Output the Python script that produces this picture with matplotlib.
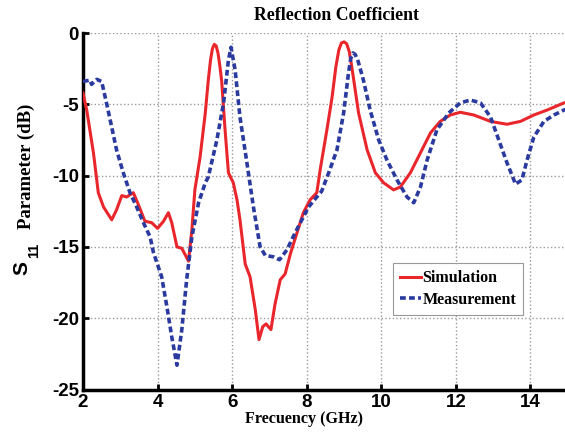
import matplotlib
matplotlib.use("Agg")
import matplotlib.pyplot as plt

# Simulation (red, solid)
sim_f = [2.0, 2.1, 2.28, 2.41, 2.55, 2.77, 2.9, 3.04, 3.17, 3.35, 3.48, 3.66, 3.84, 4.0,
         4.16, 4.29, 4.38, 4.52, 4.65, 4.83, 4.92, 5.0, 5.14, 5.28, 5.36, 5.42, 5.47, 5.52,
         5.57, 5.62, 5.67, 5.72, 5.81, 5.9, 6.03, 6.13, 6.21, 6.35, 6.48, 6.62, 6.72, 6.82,
         6.91, 7.04, 7.15, 7.29, 7.42, 7.56, 7.74, 7.91, 8.09, 8.27, 8.36, 8.54, 8.68, 8.78,
         8.86, 8.93, 9.0, 9.07, 9.14, 9.21, 9.39, 9.62, 9.84, 10.06, 10.33, 10.51, 10.78,
         11.05, 11.32, 11.58, 11.85, 12.12, 12.48, 12.93, 13.37, 13.73, 14.09, 14.45, 14.9, 15.0]
sim_db = [-4.2, -5.4, -8.4, -11.2, -12.2, -13.1, -12.4, -11.4, -11.5, -11.2, -12.0, -13.2, -13.3, -13.7,
          -13.2, -12.6, -13.3, -15.0, -15.1, -16.0, -13.8, -11.0, -8.7, -5.6, -3.3, -1.9, -1.1, -0.8,
          -0.9, -1.4, -2.3, -3.4, -6.8, -9.8, -10.5, -11.7, -13.1, -16.2, -17.1, -19.4, -21.5, -20.6,
          -20.4, -20.8, -19.0, -17.3, -16.9, -15.5, -14.0, -12.6, -11.7, -11.2, -9.6, -6.8, -4.5, -2.4,
          -1.2, -0.7, -0.62, -0.75, -1.3, -2.4, -5.6, -8.2, -9.8, -10.5, -11.0, -10.8, -9.8,
          -8.4, -7.0, -6.2, -5.75, -5.56, -5.75, -6.2, -6.4, -6.2, -5.75, -5.4, -4.9, -4.85]

# Measurement (blue, dashed)
meas_f = [2.0, 2.1, 2.19, 2.23, 2.37, 2.5, 2.63, 2.77, 2.9, 3.08, 3.26, 3.44, 3.62, 3.8, 3.89,
          4.11, 4.25, 4.38, 4.52, 4.65, 4.78, 4.92, 5.1, 5.28, 5.36, 5.59, 5.77, 5.9, 5.97,
          6.08, 6.21, 6.39, 6.57, 6.75, 6.89, 7.11, 7.27, 7.47, 7.69, 7.87, 8.05, 8.27, 8.4,
          8.59, 8.81, 8.99, 9.12, 9.18, 9.24, 9.3, 9.38, 9.52, 9.7, 9.93, 10.15, 10.42, 10.69, 10.87,
          11.05, 11.23, 11.49, 11.81, 12.12, 12.39, 12.66, 12.93, 13.15, 13.37, 13.6, 13.77,
          13.91, 14.09, 14.36, 14.63, 14.9, 15.0]
meas_db = [-3.4, -3.35, -3.3, -3.6, -3.25, -3.4, -4.9, -6.6, -8.2, -9.8, -11.2, -12.2, -13.3, -14.3, -15.4,
           -17.1, -19.2, -21.3, -23.3, -20.8, -17.3, -14.3, -11.9, -10.5, -10.1, -7.5, -4.9, -1.9, -1.0,
           -2.6, -5.9, -9.0, -12.2, -15.0, -15.6, -15.7, -15.9, -15.2, -14.0, -13.1, -12.2, -11.5, -11.1,
           -9.8, -8.2, -5.6, -2.8, -1.8, -1.4, -1.5, -2.0, -3.3, -5.4, -7.5, -8.9, -10.3, -11.5, -11.9,
           -10.8, -8.9, -6.8, -5.6, -4.9, -4.7, -4.9, -5.9, -7.5, -9.1, -10.6, -10.3,
           -8.9, -7.3, -6.2, -5.75, -5.4, -5.35]

x_ticks = [2, 4, 6, 8, 10, 12, 14]
y_ticks = [0, -5, -10, -15, -20, -25]

W, H = 565, 434
fig = plt.figure(figsize=(W / 100, H / 100), dpi=100)
ax = fig.add_axes([83 / W, 1 - 389.5 / H, 484.75 / W, 356.5 / H])

ax.plot(sim_f, sim_db, color="#e8262b", lw=2.2, label="Simulation", zorder=3,
        solid_joinstyle="round")
ax.plot(meas_f, meas_db, color="#2b3a9e", lw=2.6, linestyle=(0, (1.6, 0.9)),
        label="Measurement", zorder=4)

ax.set_xlim(2, 15)
ax.set_ylim(-25, 0)
ax.set_xticks(x_ticks)
ax.set_yticks(y_ticks)
ax.set_yticklabels([str(v) for v in y_ticks])
ax.grid(True, color="#9a9a9a", linestyle=":", linewidth=1.0)

for lab in ax.get_xticklabels() + ax.get_yticklabels():
    lab.set_fontfamily("Liberation Sans")
    lab.set_fontweight("bold")
    lab.set_fontsize(13.5)

ax.tick_params(axis="both", direction="in", length=4, width=2, pad=3)
ax.spines["top"].set_visible(False)
ax.spines["right"].set_visible(False)
ax.spines["left"].set_linewidth(2.5)
ax.spines["bottom"].set_linewidth(2.5)

fig.text(337 / W, 1 - 15 / H, "Reflection Coefficient", family="Liberation Serif",
         weight="bold", fontsize=12.8, ha="center", va="center")
fig.text(304 / W, 1 - 419 / H, "Frecuency (GHz)", family="Liberation Serif",
         weight="bold", fontsize=11.6, ha="center", va="center")

# y label: S_11 Parameter (dB)
fig.text(21.5 / W, 1 - 268 / H, "S", family="Liberation Sans", weight="bold",
         fontsize=15, rotation=90, ha="center", va="center")
fig.text(34 / W, 1 - 250 / H, "11", family="Liberation Sans", weight="bold",
         fontsize=10.5, rotation=90, ha="center", va="center")
fig.text(26.5 / W, 1 - 166 / H, "Parameter (dB)", family="Liberation Serif", weight="bold",
         fontsize=13.5, rotation=90, ha="center", va="center")

leg = ax.legend(loc="upper left", bbox_to_anchor=((393 - 83) / 484.75, (389.5 - 263) / 356.5),
                frameon=True, fancybox=False, edgecolor="#808080", handlelength=1.3,
                handletextpad=0.1, borderpad=0.45, labelspacing=0.35, borderaxespad=0,
                prop={"family": "Liberation Serif", "weight": "bold", "size": 11.5})
leg.get_frame().set_linewidth(0.8)

fig.savefig("out.png", dpi=100)
